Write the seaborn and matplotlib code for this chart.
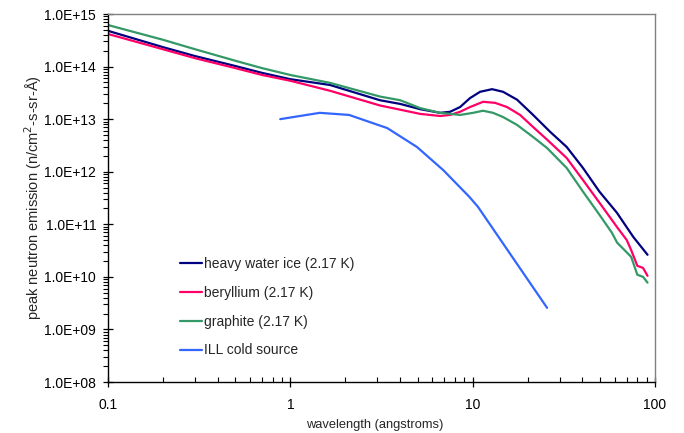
import numpy as np
import pandas as pd
import matplotlib
matplotlib.use("Agg")
import matplotlib.pyplot as plt
import seaborn as sns
from matplotlib.ticker import FuncFormatter, LogLocator

# wavelength (angstroms) and log10 of peak emission
d2o_wl = [0.1, 0.2, 0.3, 0.5, 0.7, 1.0, 1.65, 3.1, 4.0, 5.15, 6.63, 7.52, 8.53,
          9.67, 10.98, 12.78, 14.68, 17.52, 21.45, 26.58, 32.8, 40.3, 49.6,
          61.8, 76, 91]
d2o_log = [14.68, 14.37, 14.20, 14.01, 13.88, 13.76, 13.65, 13.36, 13.29, 13.19,
           13.12, 13.14, 13.23, 13.40, 13.52, 13.57, 13.52, 13.37, 13.08, 12.76,
           12.47, 12.07, 11.62, 11.22, 10.76, 10.42]

be_wl = [0.1, 0.2, 0.3, 0.5, 0.7, 1.0, 1.65, 3.1, 4.0, 5.15, 6.63, 7.52, 8.53,
         9.67, 11.4, 13.27, 15.44, 18.2, 21.45, 25.6, 32.8, 40.3, 49.6, 61.8,
         70, 74, 80, 86, 91]
be_log = [14.62, 14.33, 14.16, 13.97, 13.84, 13.73, 13.54, 13.26, 13.18, 13.10,
          13.06, 13.08, 13.14, 13.23, 13.33, 13.31, 13.23, 13.08, 12.85, 12.61,
          12.26, 11.84, 11.41, 10.95, 10.70, 10.51, 10.21, 10.17, 10.02]

gr_wl = [0.1, 0.2, 0.3, 0.5, 0.7, 1.0, 1.65, 3.1, 4.0, 5.15, 6.63, 8.53, 10.05,
         11.4, 12.94, 14.68, 17.52, 21.45, 25.6, 32.8, 40.3, 49.6, 58, 62, 68,
         74, 80, 86, 91]
gr_log = [14.79, 14.51, 14.33, 14.11, 13.97, 13.84, 13.69, 13.43, 13.36, 13.21,
          13.12, 13.08, 13.12, 13.16, 13.12, 13.04, 12.89, 12.66, 12.45, 12.07,
          11.62, 11.18, 10.84, 10.65, 10.51, 10.38, 10.04, 10.00, 9.89]

ill_wl = [0.88, 1.45, 2.1, 3.4, 4.95, 6.9, 9.6, 10.7, 25.6]
ill_log = [13.00, 13.12, 13.08, 12.83, 12.47, 12.03, 11.52, 11.33, 9.41]

names = ["heavy water ice (2.17 K)", "beryllium (2.17 K)", "graphite (2.17 K)",
         "ILL cold source"]
colors = ["#000080", "#FF0066", "#339966", "#3366FF"]

frames = []
for name, wl, lg in zip(names, [d2o_wl, be_wl, gr_wl, ill_wl],
                        [d2o_log, be_log, gr_log, ill_log]):
    frames.append(pd.DataFrame({"wavelength": wl,
                                "emission": 10 ** np.array(lg),
                                "source": name}))
df = pd.concat(frames, ignore_index=True)

sns.set_theme(style="ticks")
plt.rcParams["font.family"] = ["Liberation Sans", "DejaVu Sans"]
plt.rcParams["font.size"] = 10

fig = plt.figure(figsize=(6.84, 4.33), dpi=100)
ax = fig.add_axes([108 / 684, 1 - 382 / 433, 547 / 684, 368 / 433])

sns.lineplot(data=df, x="wavelength", y="emission", hue="source",
             hue_order=names, palette=colors, sort=False, estimator=None,
             linewidth=1.6, ax=ax)

ax.set_xscale("log")
ax.set_yscale("log")
ax.set_xlim(0.1, 100)
ax.set_ylim(1e8, 1e15)

ax.xaxis.set_major_formatter(FuncFormatter(lambda v, p: f"{v:g}"))
ax.yaxis.set_major_locator(LogLocator(base=10, numticks=20))
ax.yaxis.set_major_formatter(FuncFormatter(lambda v, p: f"{v:.1E}"))
ax.yaxis.set_minor_locator(LogLocator(base=10, subs=np.arange(2, 10), numticks=20))
ax.xaxis.set_minor_locator(LogLocator(base=10, subs=np.arange(2, 10), numticks=20))

ax.tick_params(axis="both", which="major", direction="inout", length=7,
               width=0.9, color="black", labelsize=10, labelcolor="black")
ax.tick_params(axis="x", which="major", pad=8)
ax.tick_params(axis="y", which="major", pad=5)
ax.tick_params(axis="y", which="minor", direction="out", length=3.5,
               width=0.8, color="black", labelleft=False)
ax.tick_params(axis="x", which="minor", direction="in", length=3.5,
               width=0.8, color="black", labelbottom=False)

for s in ["left", "bottom"]:
    ax.spines[s].set_color("black")
    ax.spines[s].set_linewidth(1.0)
for s in ["top", "right"]:
    ax.spines[s].set_color("#808080")
    ax.spines[s].set_linewidth(1.0)

ax.set_xlabel("wavelength (angstroms)", fontsize=9.3, va="top")
ax.xaxis.set_label_coords(0.488, -0.1)
ax.set_ylabel("peak neutron emission (n/cm$^2$-s-sr-Å)", fontsize=10.5)
ax.yaxis.set_label_coords(-0.117, 0.5)

handles, labels = ax.get_legend_handles_labels()
ax.legend(handles, labels, loc="upper left", bbox_to_anchor=(0.132, 0.339),
          frameon=False, fontsize=10, handlelength=1.6, handletextpad=0.1,
          labelspacing=1.06, borderpad=0, borderaxespad=0)

fig.savefig("out.png", dpi=100)
